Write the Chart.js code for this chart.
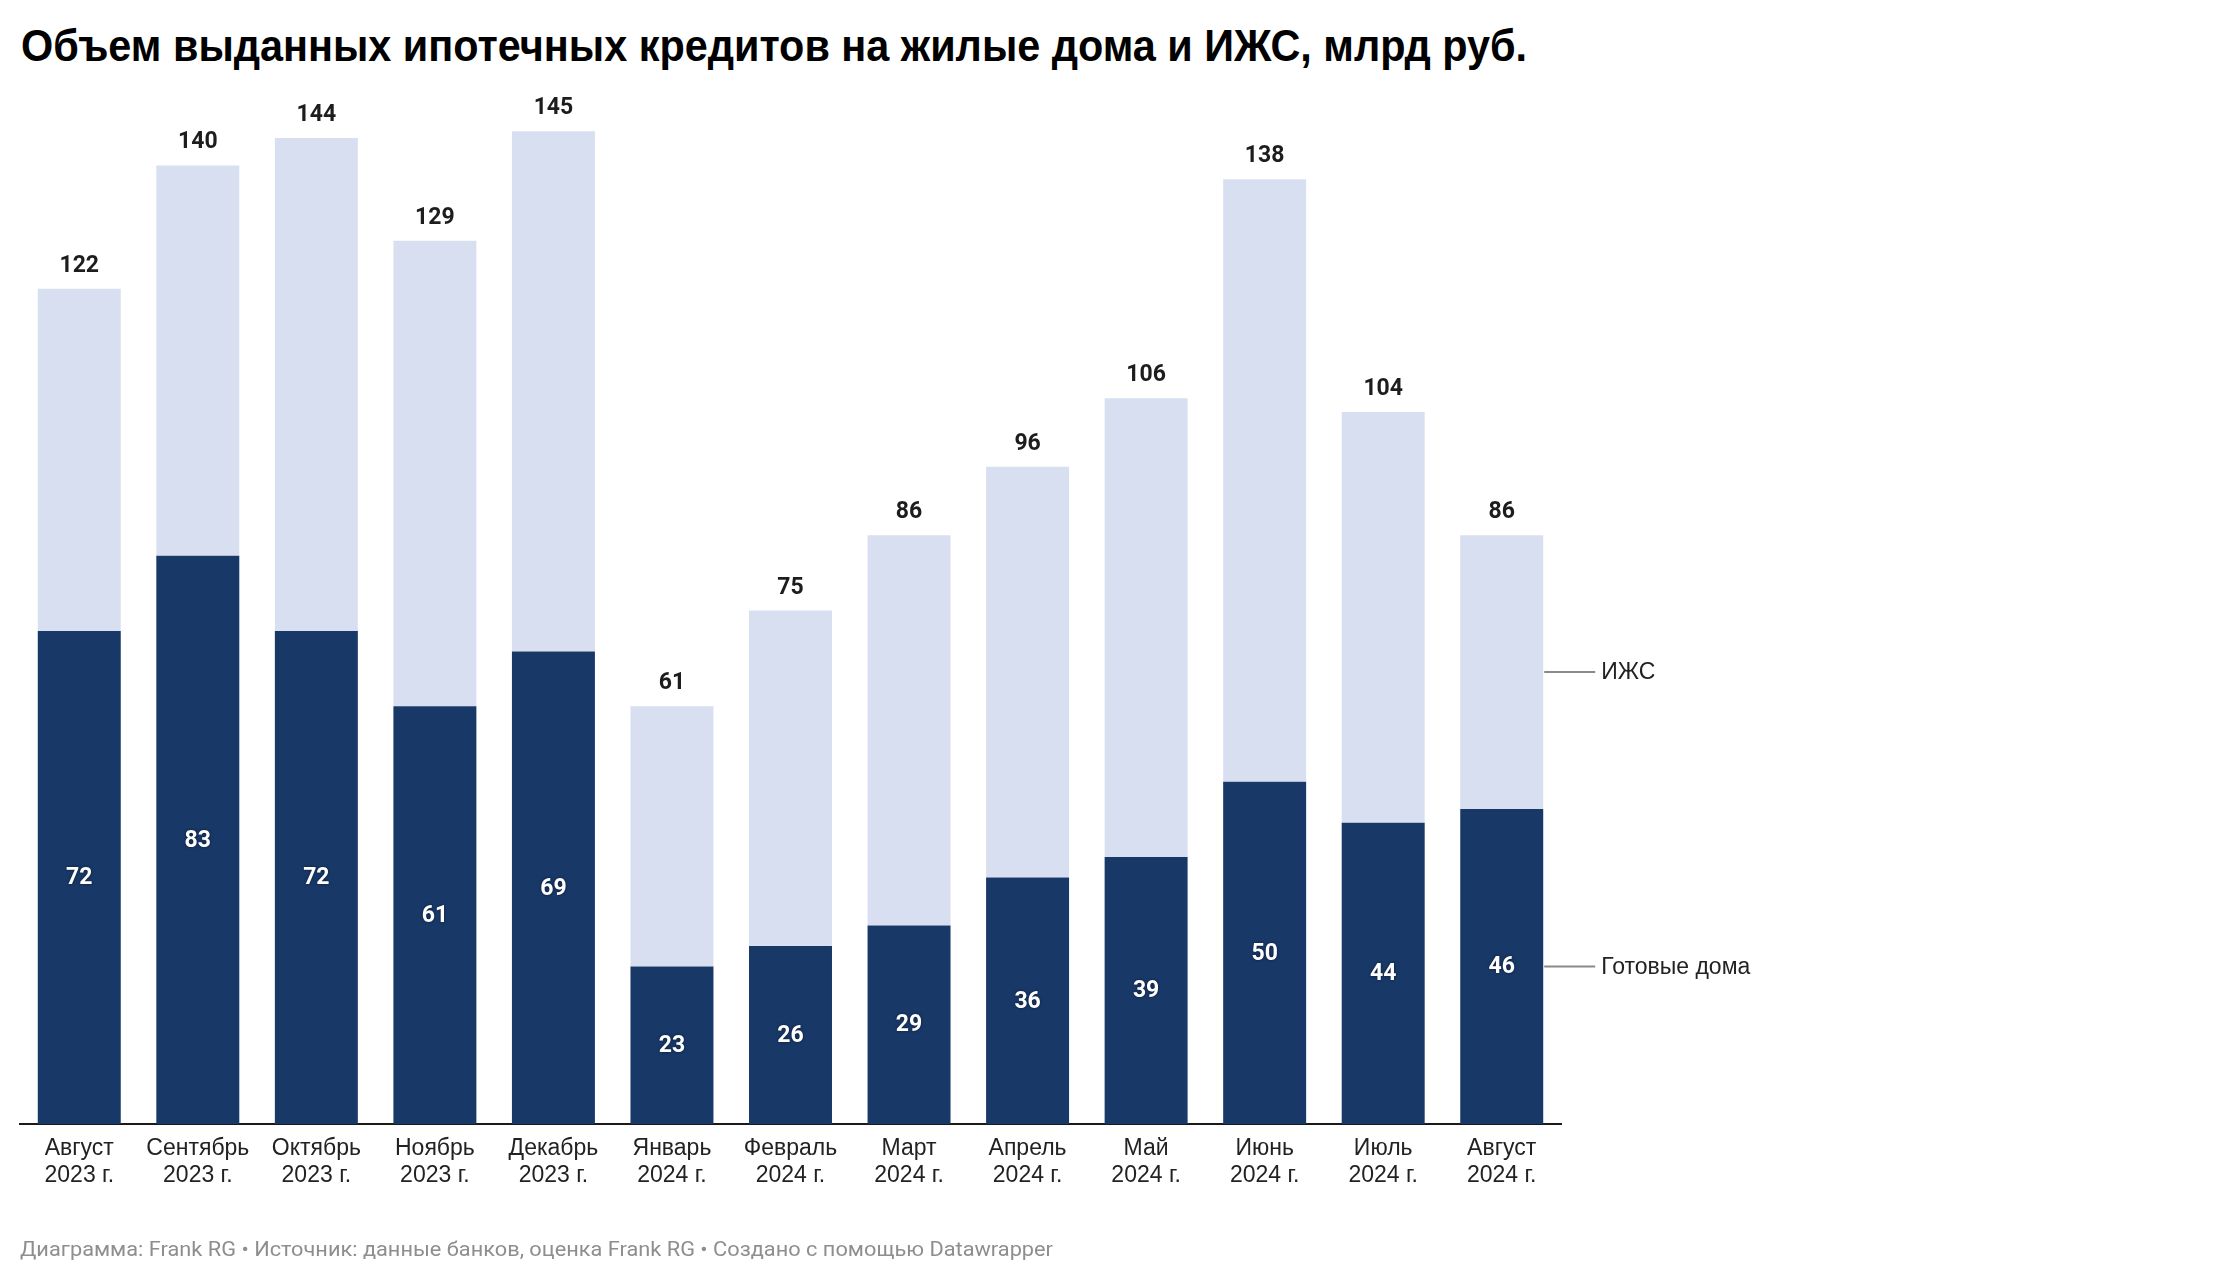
<!DOCTYPE html>
<html>
<head>
<meta charset="utf-8">
<script src="https://cdn.jsdelivr.net/npm/chart.js@4.4.1/dist/chart.umd.min.js"></script>
<style>
  html, body { margin: 0; padding: 0; background: #fff; width: 2240px; height: 1282px; overflow: hidden; }
  #title { position: absolute; left: 21px; top: 24px; font-family: "Liberation Sans", Arial, sans-serif; font-weight: bold; font-size: 44px; line-height: 44px; color: #000; white-space: nowrap; transform-origin: 0 0; }
  #footer { position: absolute; left: 20px; top: 1239px; font-family: Roboto, sans-serif; font-size: 21px; line-height: 21px; color: #8e8e8e; white-space: nowrap; transform-origin: 0 0; }
  #wrap { position: absolute; left: 0; top: 0; width: 2240px; height: 1282px; }
</style>
</head>
<body>
<div id="title">Объем выданных ипотечных кредитов на жилые дома и ИЖС, млрд руб.</div>
<div id="wrap"><canvas id="c" width="2240" height="1282"></canvas></div>
<div id="footer">Диаграмма: Frank RG • Источник: данные банков, оценка Frank RG • Создано с помощью Datawrapper</div>
<script>
// ---- data ----
const categories = [
  ["Август", "2023 г."], ["Сентябрь", "2023 г."], ["Октябрь", "2023 г."], ["Ноябрь", "2023 г."],
  ["Декабрь", "2023 г."], ["Январь", "2024 г."], ["Февраль", "2024 г."], ["Март", "2024 г."],
  ["Апрель", "2024 г."], ["Май", "2024 г."], ["Июнь", "2024 г."], ["Июль", "2024 г."], ["Август", "2024 г."]
];
const readyHomes = [72, 83, 72, 61, 69, 23, 26, 29, 36, 39, 50, 44, 46];
const izhs       = [50, 57, 72, 68, 76, 38, 49, 57, 60, 67, 88, 60, 40];
const seriesNames = ["Готовые дома", "ИЖС"];
const yMax = 150;

// fit title / footer width to the reference
(function () {
  const t = document.getElementById('title');
  const w = t.getBoundingClientRect().width;
  t.style.transform = 'scaleX(' + (1506 / w) + ')';
  const f = document.getElementById('footer');
  const fw = f.getBoundingClientRect().width;
  f.style.transform = 'scaleX(' + (1033 / fw) + ')';
})();

const DARK = '#183868';
const LIGHT = '#d8dff0';

const labelPlugin = {
  id: 'labels',
  afterDatasetsDraw(chart) {
    const ctx = chart.ctx;
    const m0 = chart.getDatasetMeta(0);
    const m1 = chart.getDatasetMeta(1);
    const ys = chart.scales.y;
    ctx.save();
    ctx.textAlign = 'center';
    // totals
    ctx.font = 'bold 23px Roboto, sans-serif';
    ctx.fillStyle = '#1d1d1d';
    ctx.textBaseline = 'alphabetic';
    m1.data.forEach((bar, i) => {
      const total = readyHomes[i] + izhs[i];
      ctx.fillText(String(total), bar.x, bar.y - 17);
    });
    // inner labels
    ctx.fillStyle = '#ffffff';
    ctx.textBaseline = 'middle';
    ctx.shadowColor = 'rgba(0,0,0,0.55)';
    ctx.shadowBlur = 3;
    m0.data.forEach((bar, i) => {
      ctx.fillText(String(readyHomes[i]), bar.x, (bar.y + bar.base) / 2 + 1);
    });
    ctx.shadowColor = 'transparent';
    ctx.shadowBlur = 0;
    // series labels at the last bar
    const last = categories.length - 1;
    const b0 = m0.data[last];
    const xr = b0.x + b0.width / 2;
    const yReady = ys.getPixelForValue(readyHomes[last] / 2);
    const yIzhs = ys.getPixelForValue(readyHomes[last] + izhs[last] / 2);
    ctx.strokeStyle = '#8a8a8a';
    ctx.lineWidth = 2;
    [[yIzhs, seriesNames[1]], [yReady, seriesNames[0]]].forEach(([yy, txt]) => {
      ctx.beginPath();
      ctx.moveTo(xr + 1, yy);
      ctx.lineTo(xr + 52, yy);
      ctx.stroke();
      ctx.font = '23px "Liberation Sans", Arial, sans-serif';
      ctx.fillStyle = '#222';
      ctx.textAlign = 'left';
      ctx.textBaseline = 'middle';
      ctx.fillText(txt, xr + 58, yy + 1);
    });
    ctx.restore();
  }
};

new Chart(document.getElementById('c'), {
  type: 'bar',
  data: {
    labels: categories,
    datasets: [
      { label: seriesNames[0], data: readyHomes, backgroundColor: DARK, barPercentage: 0.7, categoryPercentage: 1.0 },
      { label: seriesNames[1], data: izhs, backgroundColor: LIGHT, barPercentage: 0.7, categoryPercentage: 1.0 }
    ]
  },
  options: {
    responsive: false,
    animation: false,
    events: [],
    layout: { padding: { left: 20, right: 679, top: 97, bottom: 58 } },
    plugins: { legend: { display: false }, tooltip: { enabled: false }, title: { display: false } },
    scales: {
      x: {
        stacked: true,
        grid: { display: false, drawTicks: false },
        border: { display: true, color: '#1a1a1a', width: 2 },
        ticks: {
          color: '#222',
          font: { family: '"Liberation Sans", Arial, sans-serif', size: 23, lineHeight: 1.187 },
          padding: 11,
          maxRotation: 0,
          autoSkip: false
        },
        afterFit(scale) { scale.height = 100; }
      },
      y: {
        stacked: true,
        display: false,
        min: 0,
        max: yMax
      }
    }
  },
  plugins: [labelPlugin]
});
</script>
</body>
</html>
